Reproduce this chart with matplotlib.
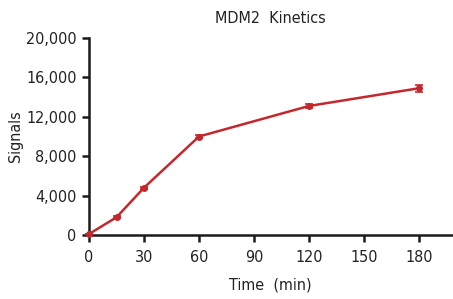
import matplotlib
matplotlib.use("Agg")
import matplotlib.pyplot as plt
from matplotlib.ticker import FuncFormatter

# data
times = [0, 15, 30, 60, 120, 180]
signals = [100, 1800, 4800, 10000, 13100, 14900]
errors = [0, 80, 100, 120, 200, 350]
xticks = [0, 30, 60, 90, 120, 150, 180]
yticks = [0, 4000, 8000, 12000, 16000, 20000]

plt.rcParams['font.family'] = ['DejaVu Sans']
plt.rcParams['font.stretch'] = 'condensed'

fig = plt.figure(figsize=(4.53, 2.99), dpi=100)
ax = fig.add_axes([89/453, 1 - 235/299, (452 - 89)/453, (235 - 38)/299])

red = '#c4282c'
ax.errorbar(times, signals, yerr=errors, color=red, lw=1.8, marker='o', ms=4,
            capsize=3, elinewidth=1.2, capthick=1.2, clip_on=False, zorder=3)

ax.set_xlim(0, 198)
ax.set_ylim(0, 20000)
ax.set_xticks(xticks)
ax.set_yticks(yticks)
ax.yaxis.set_major_formatter(FuncFormatter(lambda v, p: '{:,.0f}'.format(v)))

for s in ['top', 'right']:
    ax.spines[s].set_visible(False)
for s in ['left', 'bottom']:
    ax.spines[s].set_linewidth(1.8)
    ax.spines[s].set_color('#1a1a1a')
ax.tick_params(direction='out', length=5, width=1.8, color='#1a1a1a',
               labelsize=11.5, labelcolor='#222222')
ax.tick_params(axis='x', pad=6)
ax.tick_params(axis='y', pad=4)

ax.set_title('MDM2  Kinetics', fontsize=11.5, color='#222222', pad=11)
ax.set_xlabel('Time  (min)', fontsize=11.5, color='#222222', labelpad=9)
ax.set_ylabel('Signals', fontsize=11.5, color='#222222', labelpad=2)

fig.savefig('out.png', dpi=100)
